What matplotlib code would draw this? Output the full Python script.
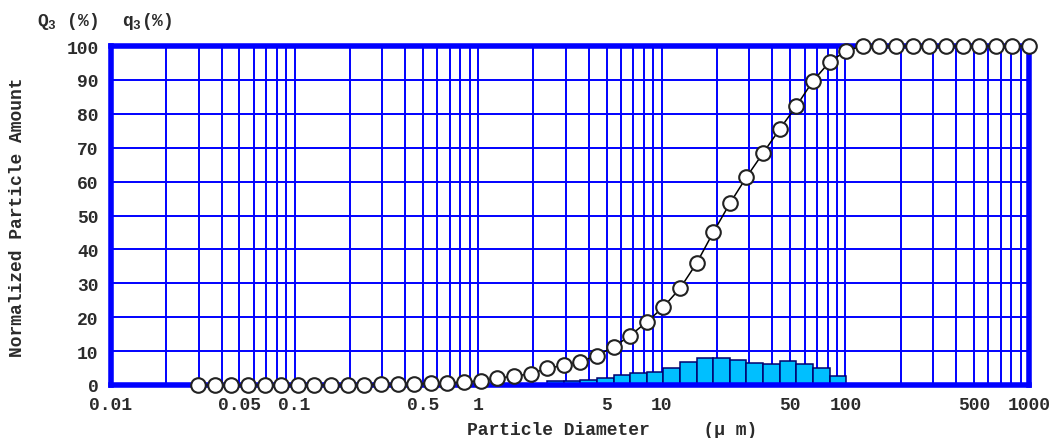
import matplotlib
matplotlib.use("Agg")
import matplotlib.pyplot as plt
from matplotlib.ticker import FixedLocator, LogLocator, NullFormatter

# particle diameters of the 51 channels (um)
diameters = [0.0299, 0.0368, 0.0453, 0.0558, 0.0687, 0.0846, 0.104, 0.128, 0.158, 0.195,
             0.240, 0.295, 0.364, 0.448, 0.552, 0.680, 0.838, 1.03, 1.27, 1.56,
             1.93, 2.37, 2.92, 3.60, 4.44, 5.46, 6.73, 8.29, 10.2, 12.6,
             15.5, 19.1, 23.5, 28.9, 35.6, 43.9, 54.1, 66.6, 82.0, 101.0,
             124.5, 153.2, 188.8, 232.5, 286.4, 352.8, 434.5, 535.3, 659.2, 812.1,
             1000.0]

# cumulative Q3 (%)
q3_cum = [0.0, 0.0, 0.0, 0.0, 0.0, 0.0, 0.0, 0.0, 0.0, 0.1,
          0.1, 0.2, 0.2, 0.3, 0.5, 0.6, 0.9, 1.2, 2.0, 2.6,
          3.3, 4.9, 5.8, 6.9, 8.7, 11.2, 14.6, 18.6, 23.0, 28.6,
          36.0, 45.1, 53.6, 61.3, 68.4, 75.5, 82.3, 89.7, 95.3, 98.6,
          100, 100, 100, 100, 100, 100, 100, 100, 100, 100,
          100]

# frequency q3 (%) for each channel interval (50 bins)
q3_freq = [0, 0, 0, 0, 0, 0, 0, 0, 0, 0,
           0, 0, 0, 0, 0, 0, 0.25, 0.3, 0.3, 0.35,
           0.35, 1.1, 1.1, 1.6, 2.2, 2.9, 3.4, 3.9, 4.9, 6.9,
           8.1, 8.1, 7.5, 6.5, 6.1, 7.1, 6.2, 4.9, 2.7, 0.2,
           0, 0, 0, 0, 0, 0, 0, 0, 0, 0]

x_ticks = [0.01, 0.05, 0.1, 0.5, 1, 5, 10, 50, 100, 500, 1000]
x_labels = ["0.01", "0.05", "0.1", "0.5", "1", "5", "10", "50", "100", "500", "1000"]
y_ticks = list(range(0, 101, 10))

FONT = "Liberation Mono"
TXT = "#2b2b2b"
BLUE = "#0000ff"

fig = plt.figure(figsize=(10.62, 4.39), dpi=100)
ax = fig.add_axes([111 / 1062, 1 - 386 / 439, 918 / 1062, 339 / 439])

ax.set_xscale("log")
ax.set_xlim(0.01, 1000)
ax.set_ylim(0, 100)

# histogram bars between neighbouring channel diameters
lefts = diameters[:-1]
widths = [diameters[i + 1] - diameters[i] for i in range(len(diameters) - 1)]
ax.bar(lefts, q3_freq, width=widths, align="edge", color="#00bfff",
       edgecolor="#00006e", linewidth=1.1, zorder=3)

# cumulative curve
ax.plot(diameters, q3_cum, color="black", linewidth=1.1, marker="o", markersize=10.5,
        markerfacecolor="white", markeredgecolor="#222222", markeredgewidth=1.5,
        zorder=6, clip_on=False)

# grid
ax.xaxis.set_major_locator(LogLocator(base=10, numticks=20))
ax.xaxis.set_minor_locator(LogLocator(base=10, subs=range(2, 10), numticks=100))
ax.yaxis.set_major_locator(FixedLocator(y_ticks))
ax.grid(which="both", axis="x", color=BLUE, linewidth=1.4)
ax.grid(which="major", axis="y", color=BLUE, linewidth=1.4)
ax.set_axisbelow(True)

for side in ax.spines.values():
    side.set_color(BLUE)
    side.set_linewidth(4)
    side.set_zorder(5)

# tick labels: x labels placed by hand so the grid keeps every decade line
ax.tick_params(which="both", length=0)
ax.xaxis.set_major_formatter(NullFormatter())
ax.xaxis.set_minor_formatter(NullFormatter())
ax.set_yticks(y_ticks)
ax.set_yticklabels([str(v) for v in y_ticks], fontfamily=FONT, fontweight="bold",
                   fontsize=13, color=TXT)
ax.tick_params(axis="y", pad=9)
for xv, lab in zip(x_ticks, x_labels):
    ax.text(xv, -3.2, lab, ha="center", va="top", fontfamily=FONT, fontweight="bold",
            fontsize=13, color=TXT, clip_on=False)

fig.text(612 / 1062, 1 - 431 / 439, "Particle Diameter     (\u03bc m)", ha="center", va="center",
         fontfamily=FONT, fontweight="bold", fontsize=13, color=TXT)
fig.text(18 / 1062, 1 - 217 / 439, "Normalized Particle Amount", rotation=90, ha="center",
         va="center", fontfamily=FONT, fontweight="bold", fontsize=13, color=TXT)
fig.text(37 / 1062, 1 - 21 / 439, "Q$\\mathregular{_3}$ (%)", ha="left", va="center",
         fontfamily=FONT, fontweight="bold", fontsize=13, color=TXT)
fig.text(122 / 1062, 1 - 21 / 439, "q$\\mathregular{_3}$(%)", ha="left", va="center",
         fontfamily=FONT, fontweight="bold", fontsize=13, color=TXT)

plt.savefig("out.png", dpi=100)
